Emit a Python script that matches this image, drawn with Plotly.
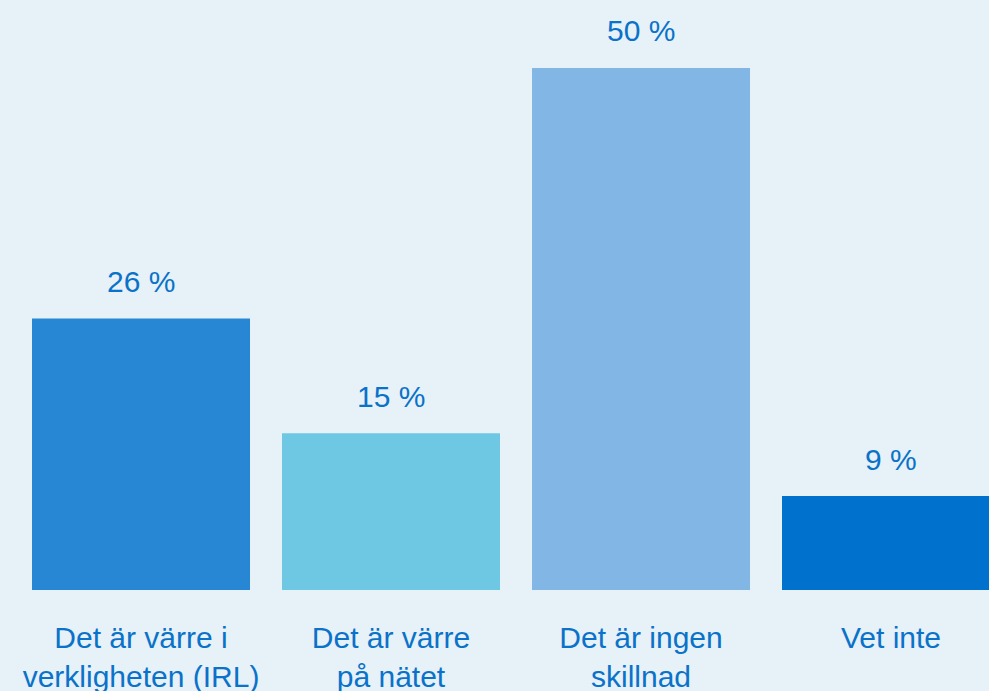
import plotly.graph_objects as go

# Survey answers and share in percent
categories = ['Det är värre i<br>verkligheten (IRL)', 'Det är värre<br>på nätet',
              'Det är ingen<br>skillnad', 'Vet inte']
values = [26, 15, 50, 9]
colors = ['#2787D4', '#6EC8E3', '#82B7E5', '#0071CC']

bg = '#E6F1F8'
txt = '#0A72C8'
font = 'Liberation Sans, Arial, Helvetica, sans-serif'

fig = go.Figure(go.Bar(x=categories, y=values, marker=dict(color=colors, line_width=0),
                       width=0.872, hoverinfo='skip'))

for c, v in zip(categories, values):
    fig.add_annotation(x=c, y=v, text=f'{v} %', showarrow=False,
                       yanchor='middle', yshift=37,
                       font=dict(size=30, color=txt, family=font))

fig.update_layout(
    width=989, height=691,
    margin=dict(l=0, r=0, t=0, b=101),
    paper_bgcolor=bg, plot_bgcolor=bg,
    showlegend=False,
    xaxis=dict(range=[-0.564, 3.392], showgrid=False, zeroline=False, showline=False,
               ticks='', tickfont=dict(size=30, color=txt, family=font),
               ticklabelstandoff=27, automargin=False),
    yaxis=dict(range=[0, 56.5], visible=False, automargin=False),
)

# drop the browser's default page margin so the chart fills the window
fig.write_html("out.html", config={'displayModeBar': False},
               post_script="document.body.style.margin='0';")
